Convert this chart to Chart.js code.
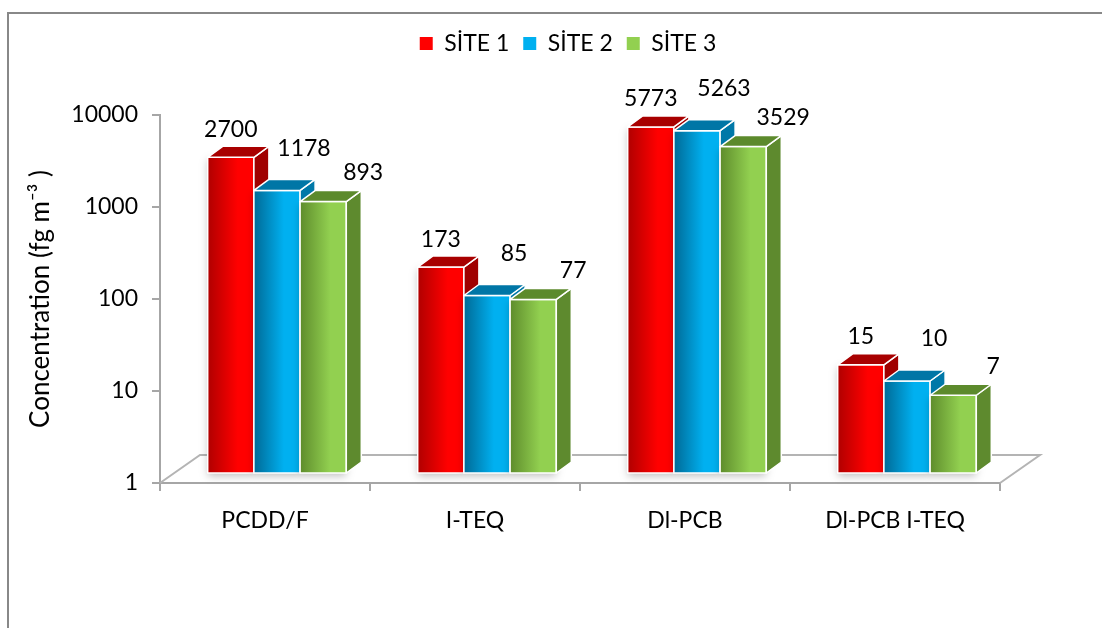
<!DOCTYPE html>
<html lang="tr">
<head>
<meta charset="UTF-8">
<title>Concentration by site</title>
<script src="https://cdn.jsdelivr.net/npm/chart.js@4.4.1/dist/chart.umd.min.js"></script>
<style>
    html, body { margin: 0; padding: 0; background: #fff; overflow: hidden; }
    #frame { position: absolute; left: 7px; top: 12px; width: 1200px; height: 700px; border: 2px solid #888; }
    #wrap { position: absolute; left: 0; top: 0; width: 1102px; height: 628px; }
</style>
</head>
<body>
<div id="frame"></div>
<div id="wrap"><canvas id="chart" width="1102" height="628"></canvas></div>

<script>
    // values
    const categories = ['PCDD/F', 'I-TEQ', 'Dl-PCB', 'Dl-PCB I-TEQ'];
    const seriesNames = ['SİTE 1', 'SİTE 2', 'SİTE 3'];
    const site1 = [2700, 173, 5773, 15];
    const site2 = [1178, 85, 5263, 10];
    const site3 = [893, 77, 3529, 7];
    const yTicks = [1, 10, 100, 1000, 10000];

    // face colours: dark edge of front, light part of front, side, top
    const palette = [
        { dark: '#b00000', light: '#ff0000', side: '#a00000', top: '#a80000' },
        { dark: '#006a96', light: '#00b0f0', side: '#0078a8', top: '#0076a6' },
        { dark: '#5e8c2c', light: '#92d050', side: '#5e8a2e', top: '#5c8a2c' }
    ];
    // where the label sits relative to the top of the front face
    const labelOffset = [{ x: 0, y: -28 }, { x: 27, y: -42 }, { x: 40, y: -29 }];

    const font = { family: 'Lato', size: 23 };
    const axisGrey = '#a6a6a6';
    const shift = { x: 12, y: -10 };   // front face sits a bit into the floor
    const depth = { x: 15, y: -11 };   // depth of each box
    const floorDepth = { x: 40, y: -28 };
    const legendShift = 68;

    const bars3d = {
        id: 'bars3d',
        afterLayout(chart) {
            // the legend in the original is centred on the whole frame, not the plot
            chart.legend.left += legendShift;
            chart.legend.right += legendShift;
        },
        beforeDatasetsDraw(chart) {
            // floor plane
            const { ctx, chartArea: a } = chart;
            ctx.save();
            ctx.strokeStyle = '#b4b4b4';
            ctx.lineWidth = 2;
            ctx.beginPath();
            ctx.moveTo(a.left, a.bottom);
            ctx.lineTo(a.left + floorDepth.x, a.bottom + floorDepth.y);
            ctx.lineTo(a.right + floorDepth.x, a.bottom + floorDepth.y);
            ctx.lineTo(a.right, a.bottom);
            ctx.stroke();
            ctx.restore();
        },
        beforeDatasetDraw() {
            return false; // boxes are drawn below
        },
        afterDatasetsDraw(chart) {
            const ctx = chart.ctx;
            const items = [];
            chart.data.datasets.forEach((ds, di) => {
                chart.getDatasetMeta(di).data.forEach((bar, i) => items.push({ bar, di, i }));
            });
            items.sort((p, q) => p.bar.x - q.bar.x);

            items.forEach(({ bar, di }) => {
                const c = palette[di];
                const l = bar.x - bar.width / 2 + shift.x;
                const r = bar.x + bar.width / 2 + shift.x;
                const t = bar.y + shift.y;
                const b = bar.base + shift.y;
                ctx.save();
                ctx.lineWidth = 1.5;
                ctx.strokeStyle = '#ffffff';
                ctx.lineJoin = 'round';

                // front
                const g = ctx.createLinearGradient(l, 0, r, 0);
                g.addColorStop(0, c.dark);
                g.addColorStop(0.65, c.light);
                g.addColorStop(1, c.light);
                ctx.fillStyle = g;
                ctx.shadowColor = 'rgba(0,0,0,0.25)';
                ctx.shadowBlur = 8;
                ctx.shadowOffsetY = 3;
                ctx.fillRect(l, t, r - l, b - t);
                ctx.shadowColor = 'transparent';
                ctx.strokeRect(l, t, r - l, b - t);

                // side
                ctx.fillStyle = c.side;
                ctx.beginPath();
                ctx.moveTo(r, t);
                ctx.lineTo(r + depth.x, t + depth.y);
                ctx.lineTo(r + depth.x, b + depth.y);
                ctx.lineTo(r, b);
                ctx.closePath();
                ctx.fill();
                ctx.stroke();

                // top
                ctx.fillStyle = c.top;
                ctx.beginPath();
                ctx.moveTo(l, t);
                ctx.lineTo(l + depth.x, t + depth.y);
                ctx.lineTo(r + depth.x, t + depth.y);
                ctx.lineTo(r, t);
                ctx.closePath();
                ctx.fill();
                ctx.stroke();
                ctx.restore();
            });

            // value labels
            ctx.save();
            ctx.font = font.size + 'px ' + font.family;
            ctx.fillStyle = '#000';
            ctx.textAlign = 'center';
            ctx.textBaseline = 'middle';
            items.forEach(({ bar, di, i }) => {
                const v = chart.data.datasets[di].data[i];
                const o = labelOffset[di];
                ctx.fillText(String(v), bar.x + shift.x + o.x, bar.y + shift.y + o.y);
            });
            ctx.restore();
        }
    };

    const ctx = document.getElementById('chart').getContext('2d');
    const seriesData = [site1, site2, site3];

    new Chart(ctx, {
        type: 'bar',
        data: {
            labels: categories,
            datasets: seriesNames.map((name, k) => ({
                label: name,
                data: seriesData[k],
                backgroundColor: palette[k].light,
                borderWidth: 0,
                barPercentage: 1,
                categoryPercentage: 0.66
            }))
        },
        options: {
            responsive: false,
            animation: false,
            layout: { padding: { left: 0, right: 102, top: 18, bottom: 0 } },
            plugins: {
                legend: {
                    labels: { boxWidth: 13, boxHeight: 13, padding: 14, color: '#000', font: font }
                },
                subtitle: {
                    // empty spacer between legend and plot
                    display: true, text: '', weight: 500,
                    font: { size: 10, lineHeight: 1 }, padding: { top: 0, bottom: 40 }
                },
                tooltip: { enabled: false }
            },
            scales: {
                x: {
                    grid: { drawOnChartArea: false, tickLength: 8, color: axisGrey, lineWidth: 2 },
                    border: { color: axisGrey, width: 2 },
                    ticks: { color: '#000', font: font, padding: 16, maxRotation: 0, autoSkip: false },
                    afterFit(s) { s.height = 145; }
                },
                y: {
                    type: 'logarithmic',
                    min: 1,
                    max: 10000,
                    afterBuildTicks(s) { s.ticks = yTicks.map(v => ({ value: v })); },
                    grid: { drawOnChartArea: false, tickLength: 8, color: axisGrey, lineWidth: 2 },
                    border: { color: axisGrey, width: 2 },
                    ticks: { color: '#000', font: font, padding: 14, callback: v => String(v) },
                    title: {
                        display: true,
                        text: 'Concentration (fg m⁻³ )',
                        color: '#000',
                        font: { family: 'Lato', size: 26 },
                        padding: { top: 25, bottom: 0 }
                    },
                    afterFit(s) { s.width = 160; }
                }
            }
        },
        plugins: [bars3d]
    });
</script>
</body>
</html>
